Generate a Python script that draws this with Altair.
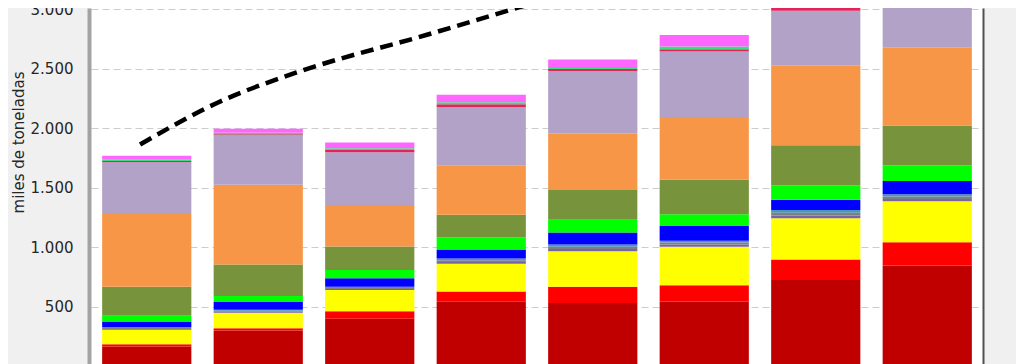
import altair as alt
import pandas as pd

# Categories (x labels are outside the visible crop)
periodos = ["P1", "P2", "P3", "P4", "P5", "P6", "P7", "P8"]

# Stacked series, bottom to top (miles de toneladas)
rojo_oscuro = [165, 300, 399, 542, 532, 545, 725, 847]
rojo        = [20, 20, 63, 86, 135, 135, 172, 194]
amarillo    = [122, 130, 178, 233, 299, 325, 346, 346]
morado      = [7, 8, 9, 15, 19, 17, 23, 19]
gris        = [8, 9, 9, 15, 19, 17, 23, 20]
turquesa    = [7, 8, 9, 14, 18, 16, 23, 19]
azul        = [47, 65, 72, 75, 101, 123, 88, 111]
verde       = [48, 50, 69, 102, 108, 100, 120, 130]
oliva       = [243, 265, 198, 191, 249, 290, 337, 337]
naranja     = [612, 670, 349, 416, 474, 517, 673, 654]
lavanda     = [434, 415, 444, 487, 526, 560, 457, 553]
carmesi     = [11, 10, 17, 25, 17, 19, 25, 25]
verde_claro = [12, 12, 16, 17, 17, 22, 16, 20]
rosa        = [33, 33, 47, 63, 63, 97, 72, 80]

series_names = ["Serie 1", "Serie 2", "Serie 3", "Serie 4", "Serie 5", "Serie 6", "Serie 7",
                "Serie 8", "Serie 9", "Serie 10", "Serie 11", "Serie 12", "Serie 13", "Serie 14"]
series_vals = [rojo_oscuro, rojo, amarillo, morado, gris, turquesa, azul, verde, oliva,
               naranja, lavanda, carmesi, verde_claro, rosa]
series_colors = ["#c00000", "#ff0000", "#ffff00", "#7a62a8", "#7f7f7f", "#4b95b8", "#0000ff",
                 "#00ff00", "#77933c", "#f79646", "#b3a2c7", "#e3245c", "#36e07a", "#ff66ff"]

# Trend annotation (dashed curve), x in bar-slot units, y in miles de toneladas
curva_x = [0.44, 1.13, 1.874, 3.013, 3.937, 4.924]
curva_y = [1863, 2212, 2478, 2785, 3043, 3317]

y_ticks = [0, 500, 1000, 1500, 2000, 2500, 3000]

rows = []
for i, (name, vals) in enumerate(zip(series_names, series_vals)):
    for c, v in zip(periodos, vals):
        rows.append({"periodo": c, "serie": name, "idx": i, "v": v})
df = pd.DataFrame(rows)
curve_df = pd.DataFrame({"cx": curva_x, "cy": curva_y})

yscale = alt.Scale(domain=[19, 3010], nice=False, zero=False)

bars = alt.Chart(df).mark_bar(clip=True, strokeWidth=0).encode(
    x=alt.X("periodo:N", sort=periodos, axis=None,
            scale=alt.Scale(paddingInner=0.2, paddingOuter=0.1)),
    y=alt.Y("v:Q", stack="zero", scale=yscale,
            axis=alt.Axis(values=y_ticks,
                          labelExpr="replace(format(datum.value, ','), ',', '.')",
                          grid=True, gridColor="#cccccc", gridDash=[7, 4], gridWidth=1,
                          ticks=False, domain=True, domainColor="#a3a3a3", domainWidth=4,
                          offset=2, labelPadding=16,
                          labelFont="DejaVu Sans", labelFontSize=15, labelColor="#262626",
                          labelBaseline="middle",
                          title="miles de toneladas", titleFont="DejaVu Sans",
                          titleFontSize=15, titleFontWeight="normal", titleColor="#262626",
                          titleAngle=270, titleAlign="center", titleBaseline="middle",
                          titleX=-71, titleY=134)),
    color=alt.Color("serie:N", scale=alt.Scale(domain=series_names, range=series_colors),
                    legend=None),
    order=alt.Order("idx:Q", sort="ascending"),
)

curve = alt.Chart(curve_df).mark_line(
    clip=True, color="black", strokeWidth=4.5, strokeDash=[13, 7],
    interpolate="monotone", strokeCap="butt"
).encode(
    x=alt.X("cx:Q", scale=alt.Scale(domain=[0, 8], nice=False, zero=False), axis=None),
    y=alt.Y("cy:Q", scale=yscale,
            axis=alt.Axis(orient="right", labels=False, ticks=False, grid=False,
                          domain=True, domainColor="#505050", domainWidth=2, title=None)),
)

chart = alt.layer(bars, curve).resolve_scale(x="independent").resolve_axis(y="independent").properties(
    width=892, height=356,
    autosize=alt.AutoSizeParams(type="none"),
    padding={"left": 83, "top": 0, "right": 33, "bottom": 0},
    background="#f0f0f0",
).configure_view(fill="white", stroke=None)

chart.save("out.html", embed_options={"renderer": "svg", "actions": False})
